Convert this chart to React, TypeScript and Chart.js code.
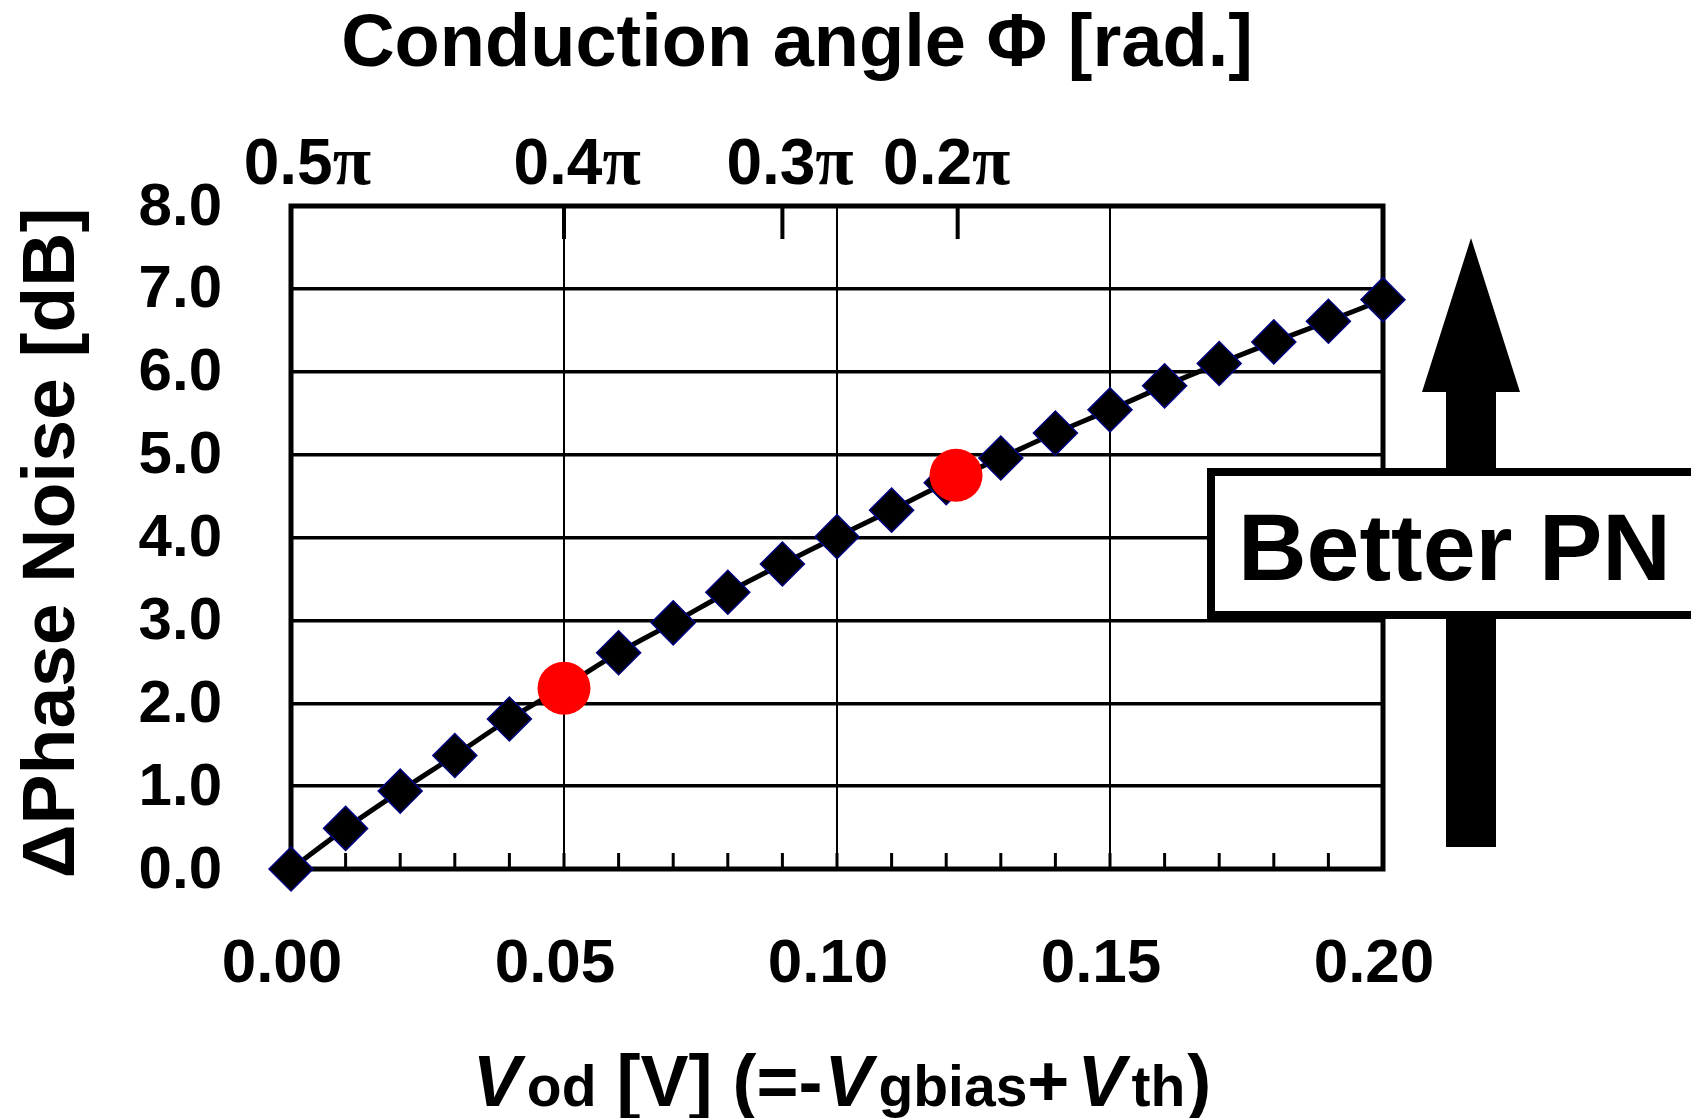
import React, { useEffect, useRef } from "react";
import { Chart, registerables } from "chart.js";

Chart.register(...registerables);

// ---- data ----
const vodValues = [0.0, 0.01, 0.02, 0.03, 0.04, 0.05, 0.06, 0.07, 0.08, 0.09, 0.1, 0.11, 0.12, 0.13, 0.14, 0.15, 0.16, 0.17, 0.18, 0.19, 0.2];
const deltaPN = [0.0, 0.49, 0.94, 1.37, 1.81, 2.2, 2.61, 2.97, 3.34, 3.68, 4.01, 4.33, 4.66, 4.96, 5.26, 5.54, 5.83, 6.1, 6.36, 6.61, 6.87];
const markedVod = [0.05, 0.1218];
const markedPN = [2.18, 4.75];
// conduction angle (top axis)
const condTickVod = [0.0, 0.05, 0.09, 0.1221];
const condLabels = ["0.5", "0.4", "0.3", "0.2"];
const condLabelVod = [0.003, 0.0524, 0.0914, 0.1201];

const FONT = '"Liberation Sans", Arial, Helvetica, sans-serif';
const SERIF = '"Liberation Serif", "Times New Roman", serif';

const decorPlugin = {
  id: "decor",
  beforeDatasetsDraw(chart: any) {
    const { ctx, chartArea: a, scales } = chart;
    const x = scales.x;
    const x2 = scales.x2;
    ctx.save();
    ctx.strokeStyle = "#000";
    // bottom minor ticks
    ctx.lineWidth = 3;
    vodValues.forEach((v) => {
      const px = x.getPixelForValue(v);
      ctx.beginPath();
      ctx.moveTo(px, a.bottom);
      ctx.lineTo(px, a.bottom - 16);
      ctx.stroke();
    });
    // top ticks (conduction angle)
    ctx.lineWidth = 4;
    condTickVod.forEach((v) => {
      const px = x2.getPixelForValue(v);
      ctx.beginPath();
      ctx.moveTo(px, a.top);
      ctx.lineTo(px, a.top + 33);
      ctx.stroke();
    });
    // frame
    ctx.lineWidth = 5;
    ctx.strokeRect(a.left, a.top, a.right - a.left, a.bottom - a.top);
    ctx.restore();
  },
  afterDraw(chart: any) {
    const { ctx, scales } = chart;
    const x2 = scales.x2;
    ctx.save();
    ctx.fillStyle = "#000";

    // top axis labels
    const numFont = `bold 64px ${FONT}`;
    const piFont = `bold 70px ${SERIF}`;
    condLabels.forEach((lab, i) => {
      const cx = x2.getPixelForValue(condLabelVod[i]);
      ctx.font = numFont;
      const w1 = ctx.measureText(lab).width;
      ctx.font = piFont;
      const w2 = ctx.measureText("π").width;
      const start = cx - (w1 + w2) / 2;
      ctx.textBaseline = "alphabetic";
      ctx.textAlign = "left";
      ctx.font = numFont;
      ctx.fillText(lab, start, 184);
      ctx.font = piFont;
      ctx.fillText("π", start + w1, 184);
    });

    // top title
    ctx.font = `bold 74px ${FONT}`;
    ctx.textAlign = "center";
    ctx.textBaseline = "alphabetic";
    ctx.fillText("Conduction angle Φ [rad.]", 797, 66);

    // y title
    ctx.save();
    ctx.translate(74, 543);
    ctx.rotate(-Math.PI / 2);
    ctx.font = `bold 75px ${FONT}`;
    ctx.textAlign = "center";
    ctx.textBaseline = "alphabetic";
    ctx.fillText("ΔPhase Noise [dB]", 0, 0);
    ctx.restore();

    // x title with subscripts
    const big = `bold 72px ${FONT}`;
    const bigI = `italic bold 72px ${FONT}`;
    const sub = `bold 57px ${FONT}`;
    const parts = [
      { t: "V", f: bigI, g: 6 },
      { t: "od", f: sub, g: 0 },
      { t: " [V] (=-", f: big, g: 2 },
      { t: "V", f: bigI, g: 6 },
      { t: "gbias", f: sub, g: 0 },
      { t: "+", f: big, g: 8 },
      { t: "V", f: bigI, g: 6 },
      { t: "th", f: sub, g: 2 },
      { t: ")", f: big, g: 0 },
    ];
    let total = 0;
    const widths = parts.map((p) => {
      ctx.font = p.f;
      const w = ctx.measureText(p.t).width;
      total += w + p.g;
      return w;
    });
    let cx = 842 - total / 2;
    ctx.textAlign = "left";
    parts.forEach((p, i) => {
      ctx.font = p.f;
      ctx.fillText(p.t, cx, 1106);
      cx += widths[i] + p.g;
    });

    // arrow
    ctx.beginPath();
    ctx.moveTo(1471, 238);
    ctx.lineTo(1520, 392);
    ctx.lineTo(1496, 392);
    ctx.lineTo(1496, 847);
    ctx.lineTo(1446, 847);
    ctx.lineTo(1446, 392);
    ctx.lineTo(1422, 392);
    ctx.closePath();
    ctx.fill();

    // annotation box
    ctx.fillStyle = "#fff";
    ctx.fillRect(1207, 468, 600, 151);
    ctx.strokeStyle = "#000";
    ctx.lineWidth = 8;
    ctx.strokeRect(1211, 472, 600, 143);
    ctx.fillStyle = "#000";
    ctx.font = `bold 95px ${FONT}`;
    ctx.textAlign = "left";
    ctx.textBaseline = "alphabetic";
    ctx.fillText("Better PN", 1238, 580);

    ctx.restore();
  },
};

export default function App() {
  const ref = useRef<HTMLCanvasElement | null>(null);

  useEffect(() => {
    document.body.style.margin = "0";
    const canvas = ref.current;
    if (!canvas) return;
    const chart = new Chart(canvas, {
      type: "scatter",
      data: {
        datasets: [
          {
            label: "marked",
            data: markedVod.map((v, i) => ({ x: v, y: markedPN[i] })),
            showLine: false,
            pointStyle: "circle",
            pointRadius: 26.5,
            pointBackgroundColor: "#ff0000",
            pointBorderWidth: 0,
            pointBorderColor: "#ff0000",
            clip: false,
          },
          {
            label: "ΔPN",
            data: vodValues.map((v, i) => ({ x: v, y: deltaPN[i] })),
            showLine: true,
            tension: 0.35,
            borderColor: "#000",
            borderWidth: 5,
            pointStyle: "rectRot",
            pointRadius: 22,
            pointBackgroundColor: "#000",
            pointBorderColor: "#00007f",
            pointBorderWidth: 1.5,
            clip: false,
          },
        ],
      },
      options: {
        responsive: false,
        animation: false,
        devicePixelRatio: 1,
        layout: { padding: { left: 0, right: 308, top: 0, bottom: 0 } },
        plugins: { legend: { display: false }, tooltip: { enabled: false } },
        scales: {
          x: {
            type: "linear",
            position: "bottom",
            min: 0,
            max: 0.2,
            ticks: {
              stepSize: 0.05,
              color: "#000",
              font: { family: FONT, size: 62, weight: "bold" },
              padding: 59,
              labelOffset: -9,
              maxRotation: 0,
              callback: (v: any) => Number(v).toFixed(2),
            },
            grid: { color: "#000", lineWidth: 2, drawTicks: false },
            border: { display: false },
            afterFit: (s: any) => {
              s.height = 249;
            },
          },
          x2: {
            type: "linear",
            position: "top",
            min: 0,
            max: 0.2,
            ticks: { display: false },
            grid: { display: false, drawTicks: false },
            border: { display: false },
            afterFit: (s: any) => {
              s.height = 206;
            },
          },
          y: {
            type: "linear",
            min: 0,
            max: 8,
            ticks: {
              stepSize: 1,
              color: "#000",
              font: { family: FONT, size: 60, weight: "bold" },
              padding: 69,
              labelOffset: 2,
              callback: (v: any) => Number(v).toFixed(1),
            },
            grid: { color: "#000", lineWidth: 3.5, drawTicks: false },
            border: { display: false },
            afterFit: (s: any) => {
              s.width = 291;
            },
          },
        },
      },
      plugins: [decorPlugin],
    } as any);
    return () => chart.destroy();
  }, []);

  return (
    <div style={{ position: "absolute", left: 0, top: 0, width: 1691, height: 1118, background: "#fff" }}>
      <canvas ref={ref} width={1691} height={1118} style={{ display: "block" }} />
    </div>
  );
}
